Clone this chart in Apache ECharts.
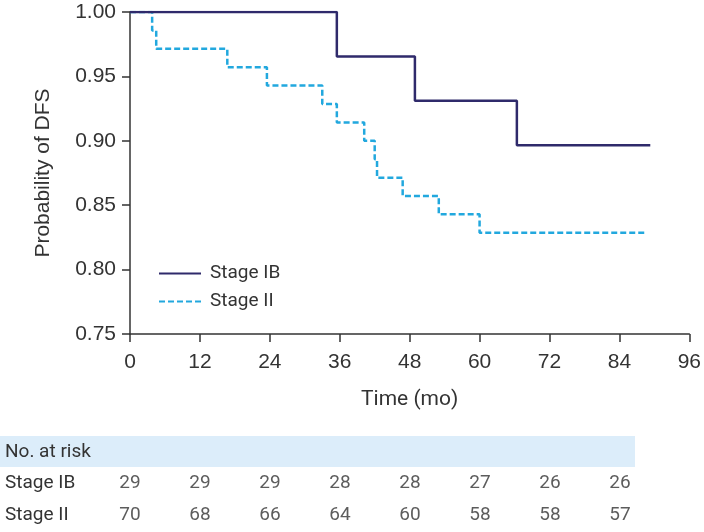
<!DOCTYPE html>
<html><head><meta charset="utf-8">
<script src="https://cdn.jsdelivr.net/npm/echarts@6/dist/echarts.min.js"></script>
<style>html,body{margin:0;padding:0;background:#fff}#c{width:704px;height:532px}</style>
</head><body><div id="c"></div>
<script>
// Kaplan-Meier steps: [time (months), survival after event]
const stageIB = [[0,1],[35.5,0.9655],[48.9,0.931],[66.4,0.8966],[89.3,0.8966]];
const stageII = [[0,1],[3.8,0.9857],[4.5,0.9714],[16.7,0.9571],[23.5,0.9429],[33,0.9286],[35.5,0.9143],[40.2,0.9],[42,0.8857],[42.4,0.8714],[46.8,0.8571],[53,0.8429],[60,0.8286],[88.6,0.8286]];
const riskTimes = [0,12,24,36,48,60,72,84];
const riskIB = [29,29,29,28,28,27,26,26];
const riskII = [70,68,66,64,60,58,58,57];
const rowNames = ['Stage II','Stage IB','No. at risk'];
const seriesNames = ['Stage IB','Stage II'];

const navy = '#2f2a6b', cyan = '#22a8de', axisCol = '#333';
const tableFont = 'Roboto, "Noto Sans", sans-serif';
const tickFont = '"Liberation Sans", Arial, sans-serif';

const riskData = [];
riskTimes.forEach((t,i)=>{ riskData.push([t,'Stage IB',riskIB[i]]); riskData.push([t,'Stage II',riskII[i]]); });

const chart = echarts.init(document.getElementById('c'), null, {renderer:'canvas'});
chart.setOption({
  animation:false,
  graphic:[{type:'rect', left:0, top:436, shape:{width:635, height:31}, style:{fill:'#dcedfa'}, z:-1}],
  grid:[
    {left:130, top:12, width:560, height:322},
    {left:130, top:436, width:560, height:94.5}
  ],
  legend:{
    data:seriesNames, orient:'vertical', left:153, top:259, itemWidth:42, itemHeight:14, itemGap:9,
    itemStyle:{opacity:0},
    textStyle:{fontFamily:tableFont, fontSize:19, lineHeight:16, color:'#333', padding:[0,0,0,4]}
  },
  xAxis:[
    {type:'value', gridIndex:0, min:0, max:96, interval:12,
     axisLine:{onZero:false, lineStyle:{color:axisCol, width:1.5}},
     axisTick:{show:true, length:8, lineStyle:{color:axisCol, width:1.5}},
     axisLabel:{fontFamily:tickFont, fontSize:21, color:'#333', margin:18},
     splitLine:{show:false},
     name:'Time (mo)', nameLocation:'middle', nameGap:55,
     nameTextStyle:{fontFamily:tableFont, fontSize:21, color:'#333'}},
    {type:'value', gridIndex:1, min:0, max:96, show:false}
  ],
  yAxis:[
    {type:'value', gridIndex:0, min:0.75, max:1.0, interval:0.05,
     axisLine:{show:true, lineStyle:{color:axisCol, width:1.5}},
     axisTick:{show:true, length:8, lineStyle:{color:axisCol, width:1.5}},
     axisLabel:{fontFamily:tickFont, fontSize:21, color:'#333', margin:14, formatter:v=>v.toFixed(2)},
     splitLine:{show:false},
     name:'Probability of DFS', nameLocation:'middle', nameGap:76, nameRotate:90,
     nameTextStyle:{fontFamily:tickFont, fontSize:21, color:'#333'}},
    {type:'category', gridIndex:1, data:rowNames,
     axisLine:{show:false}, axisTick:{show:false}, splitLine:{show:false},
     axisLabel:{fontFamily:tableFont, fontSize:19, color:'#333', align:'left', margin:125}}
  ],
  series:[
    {name:'Stage IB', type:'line', step:'end', data:stageIB, symbol:'none', showSymbol:false,
     lineStyle:{color:navy, width:2.5}, itemStyle:{color:navy}, z:3},
    {name:'Stage II', type:'line', step:'end', data:stageII, symbol:'none', showSymbol:false,
     lineStyle:{color:cyan, width:2.5, type:[6,3]}, itemStyle:{color:cyan}, z:2},
    {type:'scatter', xAxisIndex:1, yAxisIndex:1, data:riskData, symbolSize:1,
     itemStyle:{color:'transparent'},
     label:{show:true, position:'inside', formatter:p=>String(p.value[2]),
            fontFamily:tableFont, fontSize:19, color:'#333'}}
  ]
});
</script></body></html>
